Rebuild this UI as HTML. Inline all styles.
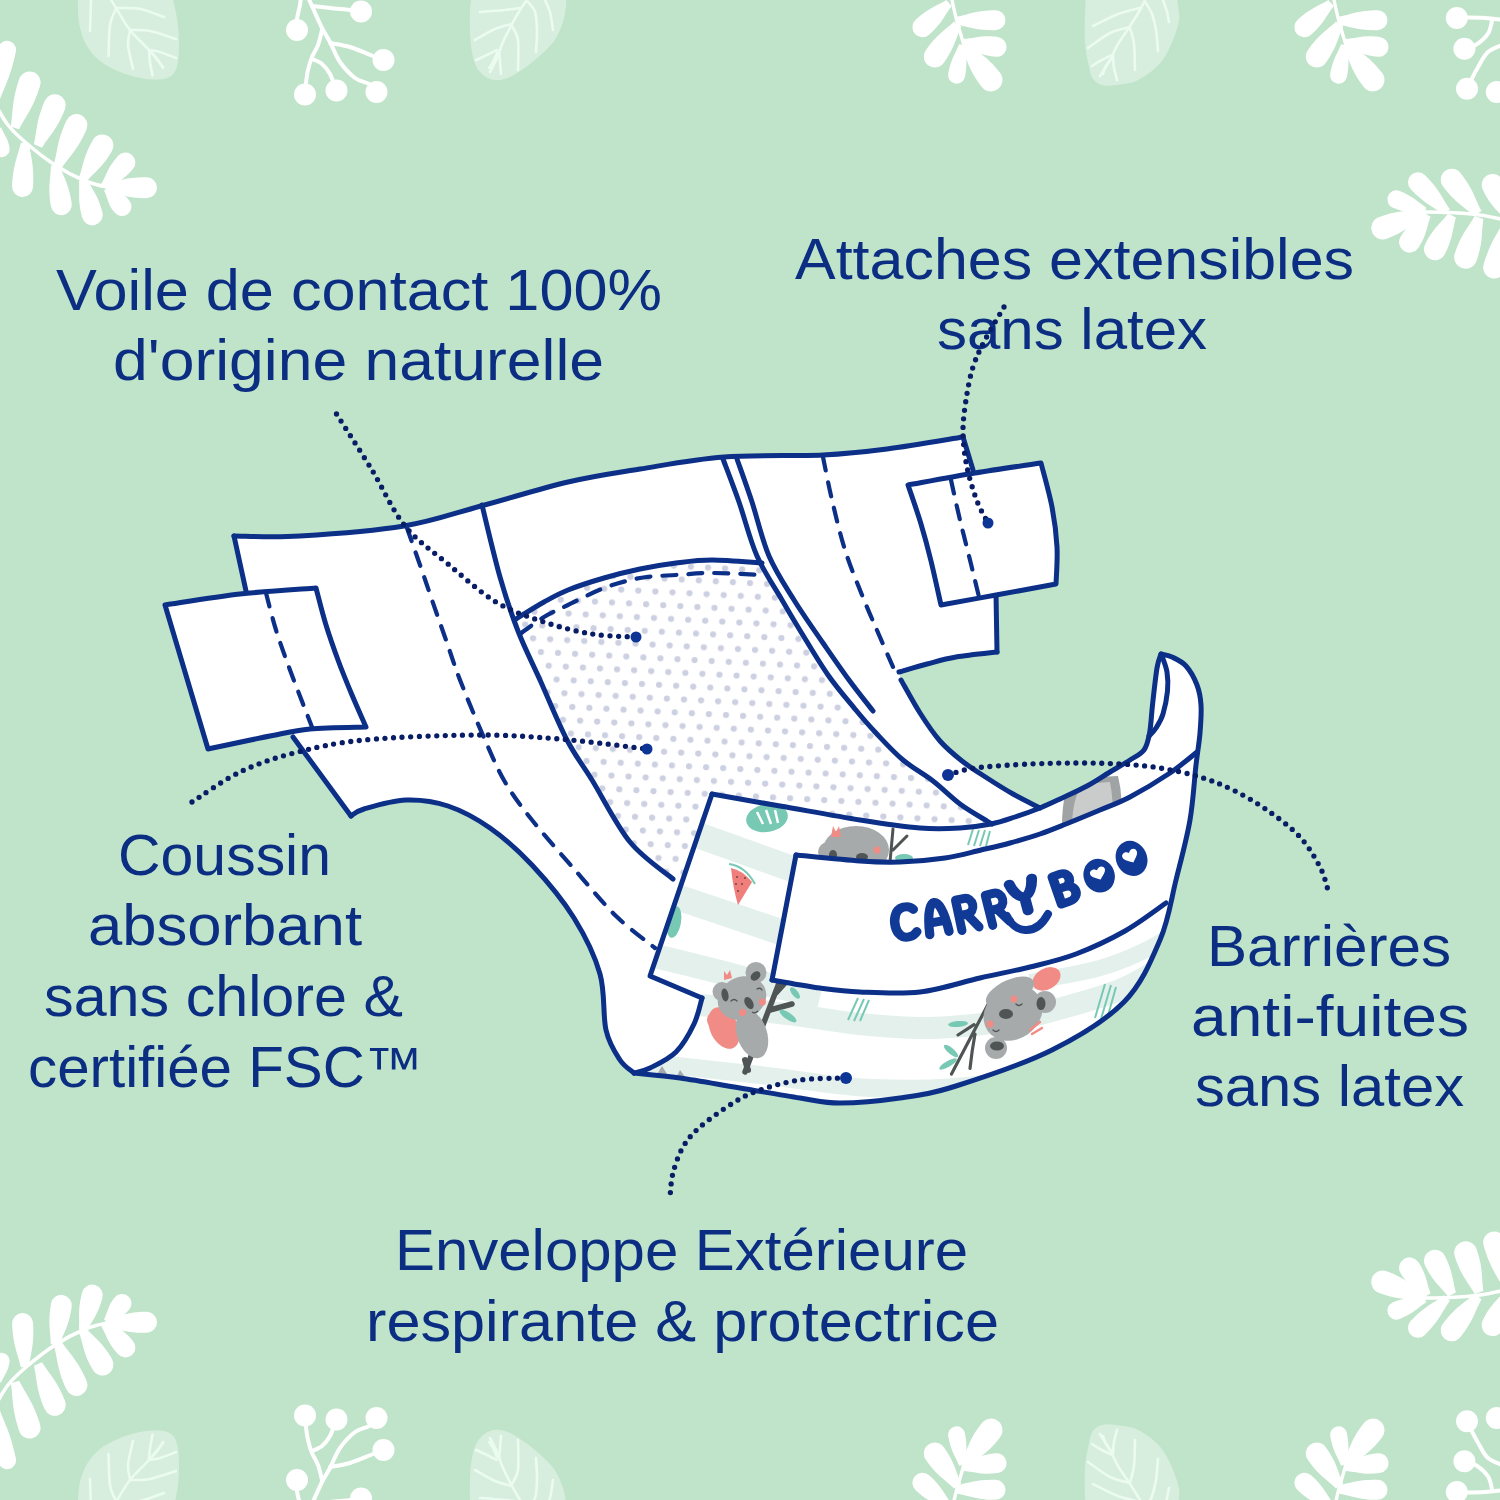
<!DOCTYPE html>
<html><head><meta charset="utf-8"><style>
html,body{margin:0;padding:0;background:#bfe4c9;}
svg{display:block}
text{font-family:"Liberation Sans",sans-serif;}
</style></head><body>
<svg width="1500" height="1500" viewBox="0 0 1500 1500">
<rect width="1500" height="1500" fill="#bfe4c9"/>
<g id="deco">
<path d="M78.0,-20.0 C78.0,-17.7 78.0,-11.0 78.0,-6.0 C78.0,-1.0 77.7,4.3 78.0,10.0 C78.3,15.7 78.5,22.0 80.0,28.0 C81.5,34.0 83.7,40.5 87.0,46.0 C90.3,51.5 94.5,56.7 100.0,61.0 C105.5,65.3 113.3,69.2 120.0,72.0 C126.7,74.8 134.2,76.8 140.0,78.0 C145.8,79.2 150.7,79.4 155.0,79.5 C159.3,79.6 162.8,79.6 166.0,78.5 C169.2,77.4 172.0,75.8 174.0,73.0 C176.0,70.2 177.2,66.7 178.0,62.0 C178.8,57.3 179.0,51.2 179.0,45.0 C179.0,38.8 178.7,31.2 178.0,25.0 C177.3,18.8 176.0,13.2 175.0,8.0 C174.0,2.8 172.5,-1.3 172.0,-6.0 C171.5,-10.7 172.0,-17.7 172.0,-20.0 L172.0,-20 L78.0,-20 Z" fill="#d7eedf"/>
<path d="M110.0,-2.0 C111.0,-0.3 112.7,2.7 116.0,8.0 C119.3,13.3 124.5,23.0 130.0,30.0 C135.5,37.0 143.5,43.8 149.0,50.0 C154.5,56.2 160.7,64.2 163.0,67.0" fill="none" stroke="#ebfbf0" stroke-width="2.6" stroke-linecap="round"/>
<path d="M116.0,8.0 C120.0,8.2 132.0,7.5 140.0,9.0 C148.0,10.5 160.0,15.7 164.0,17.0" fill="none" stroke="#ebfbf0" stroke-width="2.6" stroke-linecap="round"/>
<path d="M130.0,30.0 C133.3,30.2 142.3,29.5 150.0,31.0 C157.7,32.5 171.7,37.7 176.0,39.0" fill="none" stroke="#ebfbf0" stroke-width="2.6" stroke-linecap="round"/>
<path d="M149.0,50.0 C150.8,50.3 155.5,50.7 160.0,52.0 C164.5,53.3 173.3,57.0 176.0,58.0" fill="none" stroke="#ebfbf0" stroke-width="2.6" stroke-linecap="round"/>
<path d="M116.0,9.0 C115.0,11.7 111.2,17.2 110.0,25.0 C108.8,32.8 108.8,50.8 108.5,56.0" fill="none" stroke="#ebfbf0" stroke-width="2.6" stroke-linecap="round"/>
<path d="M130.0,31.0 C129.7,33.3 127.5,38.7 128.0,45.0 C128.5,51.3 132.2,65.0 133.0,69.0" fill="none" stroke="#ebfbf0" stroke-width="2.6" stroke-linecap="round"/>
<path d="M149.0,51.0 C149.2,52.8 149.4,57.9 150.0,62.0 C150.6,66.1 152.1,73.2 152.5,75.5" fill="none" stroke="#ebfbf0" stroke-width="2.6" stroke-linecap="round"/>
<path d="M91.0,0.0 L90.0,31.0" fill="none" stroke="#ebfbf0" stroke-width="2.6" stroke-linecap="round"/>
<path d="M152.0,53.0 C153.0,54.2 156.2,57.5 158.0,60.0 C159.8,62.5 162.2,66.7 163.0,68.0" fill="none" stroke="#ebfbf0" stroke-width="2.6" stroke-linecap="round"/>
<path d="M472.0,-20.0 C472.0,-17.7 472.3,-11.0 472.0,-6.0 C471.7,-1.0 470.3,3.7 470.0,10.0 C469.7,16.3 469.7,25.0 470.0,32.0 C470.3,39.0 471.0,46.3 472.0,52.0 C473.0,57.7 474.3,62.3 476.0,66.0 C477.7,69.7 479.7,71.8 482.0,74.0 C484.3,76.2 487.0,78.0 490.0,79.0 C493.0,80.0 496.3,80.5 500.0,80.0 C503.7,79.5 507.0,78.7 512.0,76.0 C517.0,73.3 524.3,68.3 530.0,64.0 C535.7,59.7 541.7,54.3 546.0,50.0 C550.3,45.7 553.2,42.7 556.0,38.0 C558.8,33.3 561.3,27.3 563.0,22.0 C564.7,16.7 565.5,10.7 566.0,6.0 C566.5,1.3 566.0,-1.7 566.0,-6.0 C566.0,-10.3 566.0,-17.7 566.0,-20.0 L566.0,-20 L472.0,-20 Z" fill="#d7eedf"/>
<path d="M528.0,-2.0 C526.7,0.0 522.7,5.7 520.0,10.0 C517.3,14.3 514.8,18.7 512.0,24.0 C509.2,29.3 505.5,36.3 503.0,42.0 C500.5,47.7 499.2,53.0 497.0,58.0 C494.8,63.0 491.2,69.7 490.0,72.0" fill="none" stroke="#ebfbf0" stroke-width="2.6" stroke-linecap="round"/>
<path d="M520.0,8.0 C517.5,8.3 511.7,9.3 505.0,10.0 C498.3,10.7 484.2,11.7 480.0,12.0" fill="none" stroke="#ebfbf0" stroke-width="2.6" stroke-linecap="round"/>
<path d="M512.0,24.0 C509.2,24.8 501.2,26.3 495.0,29.0 C488.8,31.7 478.3,38.2 475.0,40.0" fill="none" stroke="#ebfbf0" stroke-width="2.6" stroke-linecap="round"/>
<path d="M497.0,50.0 C495.0,51.0 488.5,54.3 485.0,56.0 C481.5,57.7 477.5,59.3 476.0,60.0" fill="none" stroke="#ebfbf0" stroke-width="2.6" stroke-linecap="round"/>
<path d="M528.0,2.0 C529.2,3.7 533.5,7.3 535.0,12.0 C536.5,16.7 536.8,23.3 537.0,30.0 C537.2,36.7 536.2,48.3 536.0,52.0" fill="none" stroke="#ebfbf0" stroke-width="2.6" stroke-linecap="round"/>
<path d="M512.0,26.0 C513.0,28.3 517.0,32.7 518.0,40.0 C519.0,47.3 518.0,65.0 518.0,70.0" fill="none" stroke="#ebfbf0" stroke-width="2.6" stroke-linecap="round"/>
<path d="M499.0,52.0 C499.2,53.7 499.7,58.3 500.0,62.0 C500.3,65.7 500.8,72.0 501.0,74.0" fill="none" stroke="#ebfbf0" stroke-width="2.6" stroke-linecap="round"/>
<path d="M545.0,0.0 C545.8,2.0 548.7,7.0 550.0,12.0 C551.3,17.0 552.5,27.0 553.0,30.0" fill="none" stroke="#ebfbf0" stroke-width="2.6" stroke-linecap="round"/>
<path d="M497.0,53.0 C496.3,54.5 494.3,59.5 493.0,62.0 C491.7,64.5 489.7,67.0 489.0,68.0" fill="none" stroke="#ebfbf0" stroke-width="2.6" stroke-linecap="round"/>
<path d="M1086.0,-20.0 C1086.0,-17.7 1086.2,-11.8 1086.0,-6.0 C1085.8,-0.2 1085.2,6.8 1085.0,15.0 C1084.8,23.2 1084.5,35.2 1085.0,43.0 C1085.5,50.8 1086.7,56.0 1088.0,62.0 C1089.3,68.0 1090.3,75.1 1093.0,79.0 C1095.7,82.9 1099.5,84.6 1104.0,85.5 C1108.5,86.4 1114.7,85.2 1120.0,84.5 C1125.3,83.8 1130.7,83.2 1136.0,81.0 C1141.3,78.8 1147.3,74.8 1152.0,71.0 C1156.7,67.2 1160.5,63.2 1164.0,58.0 C1167.5,52.8 1170.5,46.2 1173.0,40.0 C1175.5,33.8 1178.2,26.8 1179.0,21.0 C1179.8,15.2 1178.5,9.5 1178.0,5.0 C1177.5,0.5 1176.3,-1.8 1176.0,-6.0 C1175.7,-10.2 1176.0,-17.7 1176.0,-20.0 L1176.0,-20 L1086.0,-20 Z" fill="#d7eedf"/>
<path d="M1146.0,-2.0 C1145.0,0.0 1142.7,5.3 1140.0,10.0 C1137.3,14.7 1133.7,20.3 1130.0,26.0 C1126.3,31.7 1121.3,38.3 1118.0,44.0 C1114.7,49.7 1113.0,54.7 1110.0,60.0 C1107.0,65.3 1101.7,73.3 1100.0,76.0" fill="none" stroke="#ebfbf0" stroke-width="2.6" stroke-linecap="round"/>
<path d="M1140.0,8.0 C1136.3,9.0 1125.8,11.0 1118.0,14.0 C1110.2,17.0 1097.2,24.0 1093.0,26.0" fill="none" stroke="#ebfbf0" stroke-width="2.6" stroke-linecap="round"/>
<path d="M1130.0,27.0 C1126.7,28.0 1117.0,29.5 1110.0,33.0 C1103.0,36.5 1091.7,45.5 1088.0,48.0" fill="none" stroke="#ebfbf0" stroke-width="2.6" stroke-linecap="round"/>
<path d="M1112.0,55.0 C1110.0,56.0 1103.3,59.2 1100.0,61.0 C1096.7,62.8 1093.3,65.2 1092.0,66.0" fill="none" stroke="#ebfbf0" stroke-width="2.6" stroke-linecap="round"/>
<path d="M1146.0,3.0 C1147.0,4.8 1150.3,9.5 1152.0,14.0 C1153.7,18.5 1155.0,23.8 1156.0,30.0 C1157.0,36.2 1157.7,47.5 1158.0,51.0" fill="none" stroke="#ebfbf0" stroke-width="2.6" stroke-linecap="round"/>
<path d="M1130.0,28.0 C1130.7,30.7 1133.2,37.0 1134.0,44.0 C1134.8,51.0 1134.8,65.7 1135.0,70.0" fill="none" stroke="#ebfbf0" stroke-width="2.6" stroke-linecap="round"/>
<path d="M1113.0,56.0 C1113.2,58.0 1113.3,64.0 1114.0,68.0 C1114.7,72.0 1116.5,78.0 1117.0,80.0" fill="none" stroke="#ebfbf0" stroke-width="2.6" stroke-linecap="round"/>
<path d="M1163.0,0.0 C1163.7,2.0 1166.0,8.3 1167.0,12.0 C1168.0,15.7 1168.7,20.3 1169.0,22.0" fill="none" stroke="#ebfbf0" stroke-width="2.6" stroke-linecap="round"/>
<path d="M1112.0,58.0 C1111.0,59.3 1107.5,63.3 1106.0,66.0 C1104.5,68.7 1103.5,72.7 1103.0,74.0" fill="none" stroke="#ebfbf0" stroke-width="2.6" stroke-linecap="round"/>
<path d="M-5.0,104.0 C-2.8,107.5 3.0,118.7 8.0,125.0 C13.0,131.3 17.2,135.3 25.0,142.0 C32.8,148.7 45.3,158.7 55.0,165.0 C64.7,171.3 74.3,176.3 83.0,180.0 C91.7,183.7 100.0,185.7 107.0,187.0 C114.0,188.3 122.0,187.8 125.0,188.0" fill="none" stroke="#fff" stroke-width="3.6" stroke-linecap="round"/>
<path transform="translate(-4.0,100.0) rotate(-77.57)" d="M0,-3.60 C15.10,-5.40 24.17,-9.18 51.42,-9.00 A9.00,9.00 0 0 1 51.42,9.00 C24.17,9.18 15.10,5.40 0,3.60 Z" fill="#ffffff"/>
<path transform="translate(15.0,128.0) rotate(-72.18)" d="M0,-4.40 C14.71,-6.60 23.53,-11.22 47.82,-11.00 A11.00,11.00 0 0 1 47.82,11.00 C23.53,11.22 14.71,6.60 0,4.40 Z" fill="#ffffff"/>
<path transform="translate(38.0,146.0) rotate(-67.62)" d="M0,-4.40 C13.79,-6.60 22.06,-11.22 44.15,-11.00 A11.00,11.00 0 0 1 44.15,11.00 C22.06,11.22 13.79,6.60 0,4.40 Z" fill="#ffffff"/>
<path transform="translate(58.0,166.0) rotate(-65.73)" d="M0,-4.40 C13.99,-6.60 22.38,-11.22 44.95,-11.00 A11.00,11.00 0 0 1 44.95,11.00 C22.38,11.22 13.99,6.60 0,4.40 Z" fill="#ffffff"/>
<path transform="translate(83.0,179.0) rotate(-59.83)" d="M0,-4.40 C12.43,-6.60 19.90,-11.22 38.74,-11.00 A11.00,11.00 0 0 1 38.74,11.00 C19.90,11.22 12.43,6.60 0,4.40 Z" fill="#ffffff"/>
<path transform="translate(104.0,187.0) rotate(-48.81)" d="M0,-4.00 C10.63,-6.00 17.01,-10.20 32.52,-10.00 A10.00,10.00 0 0 1 32.52,10.00 C17.01,10.20 10.63,6.00 0,4.00 Z" fill="#ffffff"/>
<path transform="translate(107.0,187.0) rotate(1.15)" d="M0,-4.20 C12.50,-6.30 20.00,-10.71 39.51,-10.50 A10.50,10.50 0 0 1 39.51,10.50 C20.00,10.71 12.50,6.30 0,4.20 Z" fill="#ffffff"/>
<path transform="translate(-2.0,128.0) rotate(80.22)" d="M0,-3.20 C7.36,-4.80 11.77,-8.16 21.43,-8.00 A8.00,8.00 0 0 1 21.43,8.00 C11.77,8.16 7.36,4.80 0,3.20 Z" fill="#ffffff"/>
<path transform="translate(25.0,143.0) rotate(93.18)" d="M0,-4.20 C13.52,-6.30 21.63,-10.71 43.58,-10.50 A10.50,10.50 0 0 1 43.58,10.50 C21.63,10.71 13.52,6.30 0,4.20 Z" fill="#ffffff"/>
<path transform="translate(55.0,165.0) rotate(80.91)" d="M0,-4.20 C12.66,-6.30 20.25,-10.71 40.14,-10.50 A10.50,10.50 0 0 1 40.14,10.50 C20.25,10.71 12.66,6.30 0,4.20 Z" fill="#ffffff"/>
<path transform="translate(83.0,180.0) rotate(75.07)" d="M0,-4.20 C11.64,-6.30 18.63,-10.71 36.07,-10.50 A10.50,10.50 0 0 1 36.07,10.50 C18.63,10.71 11.64,6.30 0,4.20 Z" fill="#ffffff"/>
<path transform="translate(107.0,188.0) rotate(51.07)" d="M0,-3.80 C8.36,-5.70 13.37,-9.69 23.92,-9.50 A9.50,9.50 0 0 1 23.92,9.50 C13.37,9.69 8.36,5.70 0,3.80 Z" fill="#ffffff"/>
<path d="M1420.0,212.0 C1425.0,212.1 1440.0,212.0 1450.0,212.5 C1460.0,213.0 1470.8,213.8 1480.0,215.0 C1489.2,216.2 1500.8,219.2 1505.0,220.0" fill="none" stroke="#fff" stroke-width="3.6" stroke-linecap="round"/>
<path transform="translate(1425.0,211.0) rotate(-157.93)" d="M0,-3.60 C9.98,-5.40 15.97,-9.18 30.92,-9.00 A9.00,9.00 0 0 1 30.92,9.00 C15.97,9.18 9.98,5.40 0,3.60 Z" fill="#ffffff"/>
<path transform="translate(1447.0,212.0) rotate(-134.22)" d="M0,-4.00 C12.91,-6.00 20.65,-10.20 41.62,-10.00 A10.00,10.00 0 0 1 41.62,10.00 C20.65,10.20 12.91,6.00 0,4.00 Z" fill="#ffffff"/>
<path transform="translate(1478.0,213.5) rotate(-127.83)" d="M0,-4.40 C13.45,-6.60 21.52,-11.22 42.81,-11.00 A11.00,11.00 0 0 1 42.81,11.00 C21.52,11.22 13.45,6.60 0,4.40 Z" fill="#ffffff"/>
<path transform="translate(1508.0,217.0) rotate(-115.46)" d="M0,-4.40 C11.63,-6.60 18.61,-11.22 35.52,-11.00 A11.00,11.00 0 0 1 35.52,11.00 C18.61,11.22 11.63,6.60 0,4.40 Z" fill="#ffffff"/>
<path transform="translate(1421.0,213.5) rotate(159.32)" d="M0,-4.60 C13.09,-6.90 20.95,-11.73 40.88,-11.50 A11.50,11.50 0 0 1 40.88,11.50 C20.95,11.73 13.09,6.90 0,4.60 Z" fill="#ffffff"/>
<path transform="translate(1427.0,214.5) rotate(122.22)" d="M0,-4.20 C10.79,-6.30 17.26,-10.71 32.64,-10.50 A10.50,10.50 0 0 1 32.64,10.50 C17.26,10.71 10.79,6.30 0,4.20 Z" fill="#ffffff"/>
<path transform="translate(1452.0,215.5) rotate(116.83)" d="M0,-4.40 C12.19,-6.60 19.50,-11.22 37.75,-11.00 A11.00,11.00 0 0 1 37.75,11.00 C19.50,11.22 12.19,6.60 0,4.40 Z" fill="#ffffff"/>
<path transform="translate(1479.0,217.5) rotate(108.60)" d="M0,-4.60 C13.32,-6.90 21.31,-11.73 41.78,-11.50 A11.50,11.50 0 0 1 41.78,11.50 C21.31,11.73 13.32,6.90 0,4.60 Z" fill="#ffffff"/>
<path transform="translate(1508.0,222.0) rotate(106.89)" d="M0,-4.40 C14.63,-6.60 23.41,-11.22 47.52,-11.00 A11.00,11.00 0 0 1 47.52,11.00 C23.41,11.22 14.63,6.60 0,4.40 Z" fill="#ffffff"/>
<g transform="translate(0,0)">
<path d="M951.0,-5.0 C951.2,-4.2 951.2,-3.8 952.0,0.0 C952.8,3.8 954.3,10.9 956.0,17.6 C957.7,24.3 960.9,34.8 962.4,40.0 C963.9,45.2 964.6,47.5 965.0,49.0" fill="none" stroke="#fff" stroke-width="3.4" stroke-linecap="round"/>
<path transform="translate(949.0,3.0) rotate(137.64)" d="M0,-4.00 C11.50,-6.00 18.40,-10.20 36.01,-10.00 A10.00,10.00 0 0 1 36.01,10.00 C18.40,10.20 11.50,6.00 0,4.00 Z" fill="#ffffff"/>
<path transform="translate(956.0,20.8) rotate(-0.93)" d="M0,-4.00 C12.38,-6.00 19.80,-10.20 39.51,-10.00 A10.00,10.00 0 0 1 39.51,10.00 C19.80,10.20 12.38,6.00 0,4.00 Z" fill="#ffffff"/>
<path transform="translate(957.6,24.0) rotate(125.04)" d="M0,-4.40 C12.67,-6.60 20.27,-11.22 39.69,-11.00 A11.00,11.00 0 0 1 39.69,11.00 C20.27,11.22 12.67,6.60 0,4.40 Z" fill="#ffffff"/>
<path transform="translate(963.0,43.0) rotate(6.56)" d="M0,-4.00 C10.95,-6.00 17.51,-10.20 33.79,-10.00 A10.00,10.00 0 0 1 33.79,10.00 C17.51,10.20 10.95,6.00 0,4.00 Z" fill="#ffffff"/>
<path transform="translate(962.4,45.0) rotate(100.88)" d="M0,-3.40 C9.80,-5.10 15.68,-8.67 30.70,-8.50 A8.50,8.50 0 0 1 30.70,8.50 C15.68,8.67 9.80,5.10 0,3.40 Z" fill="#ffffff"/>
<path transform="translate(965.6,47.0) rotate(52.35)" d="M0,-4.60 C13.26,-6.90 21.22,-11.73 41.54,-11.50 A11.50,11.50 0 0 1 41.54,11.50 C21.22,11.73 13.26,6.90 0,4.60 Z" fill="#ffffff"/>
</g>
<g transform="translate(382,0)">
<path d="M951.0,-5.0 C951.2,-4.2 951.2,-3.8 952.0,0.0 C952.8,3.8 954.3,10.9 956.0,17.6 C957.7,24.3 960.9,34.8 962.4,40.0 C963.9,45.2 964.6,47.5 965.0,49.0" fill="none" stroke="#fff" stroke-width="3.4" stroke-linecap="round"/>
<path transform="translate(949.0,3.0) rotate(137.64)" d="M0,-4.00 C11.50,-6.00 18.40,-10.20 36.01,-10.00 A10.00,10.00 0 0 1 36.01,10.00 C18.40,10.20 11.50,6.00 0,4.00 Z" fill="#ffffff"/>
<path transform="translate(956.0,20.8) rotate(-0.93)" d="M0,-4.00 C12.38,-6.00 19.80,-10.20 39.51,-10.00 A10.00,10.00 0 0 1 39.51,10.00 C19.80,10.20 12.38,6.00 0,4.00 Z" fill="#ffffff"/>
<path transform="translate(957.6,24.0) rotate(125.04)" d="M0,-4.40 C12.67,-6.60 20.27,-11.22 39.69,-11.00 A11.00,11.00 0 0 1 39.69,11.00 C20.27,11.22 12.67,6.60 0,4.40 Z" fill="#ffffff"/>
<path transform="translate(963.0,43.0) rotate(6.56)" d="M0,-4.00 C10.95,-6.00 17.51,-10.20 33.79,-10.00 A10.00,10.00 0 0 1 33.79,10.00 C17.51,10.20 10.95,6.00 0,4.00 Z" fill="#ffffff"/>
<path transform="translate(962.4,45.0) rotate(100.88)" d="M0,-3.40 C9.80,-5.10 15.68,-8.67 30.70,-8.50 A8.50,8.50 0 0 1 30.70,8.50 C15.68,8.67 9.80,5.10 0,3.40 Z" fill="#ffffff"/>
<path transform="translate(965.6,47.0) rotate(52.35)" d="M0,-4.60 C13.26,-6.90 21.22,-11.73 41.54,-11.50 A11.50,11.50 0 0 1 41.54,11.50 C21.22,11.73 13.26,6.90 0,4.60 Z" fill="#ffffff"/>
</g>
<path d="M307.0,-5.0 C307.8,-3.2 309.5,0.5 312.0,6.0 C314.5,11.5 319.0,22.0 322.0,28.0 C325.0,34.0 327.0,36.3 330.0,42.0 C333.0,47.7 335.8,56.0 340.0,62.0 C344.2,68.0 350.2,74.3 355.0,78.0 C359.8,81.7 365.4,81.7 369.0,84.0 C372.6,86.3 375.2,90.7 376.5,92.0" fill="none" stroke="#fff" stroke-width="4.0" stroke-linecap="round"/>
<path d="M312.0,6.0 C315.0,6.3 323.7,7.3 330.0,8.0 C336.3,8.7 344.8,9.4 350.0,10.0 C355.2,10.6 359.2,11.2 361.0,11.5" fill="none" stroke="#fff" stroke-width="4.0" stroke-linecap="round"/>
<path d="M301.0,-5.0 C300.8,-3.3 300.7,1.0 300.0,5.0 C299.3,9.0 297.5,14.8 297.0,19.0 C296.5,23.2 297.0,28.2 297.0,30.0" fill="none" stroke="#fff" stroke-width="4.0" stroke-linecap="round"/>
<path d="M330.0,43.0 C333.3,43.7 342.8,44.8 350.0,47.0 C357.2,49.2 367.4,53.8 373.0,56.0 C378.6,58.2 381.8,59.3 383.5,60.0" fill="none" stroke="#fff" stroke-width="4.0" stroke-linecap="round"/>
<path d="M322.0,30.0 C321.3,32.5 319.7,40.5 318.0,45.0 C316.3,49.5 313.7,52.8 312.0,57.0 C310.3,61.2 309.0,65.7 308.0,70.0 C307.0,74.3 306.5,78.9 306.0,83.0 C305.5,87.1 305.2,92.6 305.0,94.5" fill="none" stroke="#fff" stroke-width="4.0" stroke-linecap="round"/>
<path d="M312.0,59.0 C313.7,59.8 319.0,61.5 322.0,64.0 C325.0,66.5 327.6,69.6 330.0,74.0 C332.4,78.4 335.4,87.8 336.5,90.5" fill="none" stroke="#fff" stroke-width="4.0" stroke-linecap="round"/>
<circle cx="361.0" cy="11.5" r="11.0" fill="#fff"/>
<circle cx="297.0" cy="30.0" r="11.0" fill="#fff"/>
<circle cx="383.5" cy="60.0" r="11.0" fill="#fff"/>
<circle cx="305.0" cy="94.5" r="11.0" fill="#fff"/>
<circle cx="336.5" cy="90.5" r="11.0" fill="#fff"/>
<circle cx="376.5" cy="92.0" r="11.0" fill="#fff"/>
<path d="M1456.8,18.0 C1458.7,17.9 1463.3,17.6 1468.0,17.6 C1472.7,17.6 1478.8,17.6 1485.0,18.0 C1491.2,18.4 1501.7,19.7 1505.0,20.0" fill="none" stroke="#fff" stroke-width="4.0" stroke-linecap="round"/>
<path d="M1492.0,21.0 C1491.3,23.1 1490.7,29.6 1488.0,33.6 C1485.3,37.6 1479.9,42.3 1476.0,44.8 C1472.1,47.3 1466.3,48.1 1464.4,48.8" fill="none" stroke="#fff" stroke-width="4.0" stroke-linecap="round"/>
<path d="M1505.0,44.0 C1502.2,45.3 1492.6,48.0 1488.0,52.0 C1483.4,56.0 1480.3,63.6 1477.6,68.0 C1474.9,72.4 1473.8,74.9 1472.0,78.4 C1470.2,81.9 1467.8,87.1 1467.0,88.8" fill="none" stroke="#fff" stroke-width="4.0" stroke-linecap="round"/>
<circle cx="1456.8" cy="18.0" r="11.0" fill="#fff"/>
<circle cx="1464.4" cy="48.8" r="11.0" fill="#fff"/>
<circle cx="1467.0" cy="88.8" r="11.0" fill="#fff"/>
<circle cx="1496.8" cy="92.0" r="11.0" fill="#fff"/>
</g>
<use href="#deco" transform="translate(0,1510) scale(1,-1)"/>
<g fill="#0b2e83" font-size="57">
<text x="56.0" y="310.0" textLength="606.0" lengthAdjust="spacingAndGlyphs">Voile de contact 100%</text>
<text x="113.0" y="380.0" textLength="491.0" lengthAdjust="spacingAndGlyphs">d'origine naturelle</text>
<text x="795.0" y="279.0" textLength="559.0" lengthAdjust="spacingAndGlyphs">Attaches extensibles</text>
<text x="937.0" y="349.0" textLength="270.0" lengthAdjust="spacingAndGlyphs">sans latex</text>
<text x="118.0" y="875.0" textLength="213.0" lengthAdjust="spacingAndGlyphs">Coussin</text>
<text x="88.0" y="944.5" textLength="274.0" lengthAdjust="spacingAndGlyphs">absorbant</text>
<text x="44.0" y="1015.5" textLength="359.0" lengthAdjust="spacingAndGlyphs">sans chlore &amp;</text>
<text x="28.0" y="1086.5" textLength="395.0" lengthAdjust="spacingAndGlyphs">certifiée FSC™</text>
<text x="1207.0" y="966.0" textLength="244.0" lengthAdjust="spacingAndGlyphs">Barrières</text>
<text x="1191.0" y="1036.0" textLength="278.0" lengthAdjust="spacingAndGlyphs">anti-fuites</text>
<text x="1195.0" y="1106.0" textLength="269.0" lengthAdjust="spacingAndGlyphs">sans latex</text>
<text x="395.0" y="1270.0" textLength="573.0" lengthAdjust="spacingAndGlyphs">Enveloppe Extérieure</text>
<text x="366.0" y="1341.0" textLength="633.0" lengthAdjust="spacingAndGlyphs">respirante &amp; protectrice</text>
</g>
<defs>
<pattern id="dots" patternUnits="userSpaceOnUse" x="6" y="7" width="17.1" height="26.6" patternTransform="rotate(3)"><circle cx="4" cy="4" r="3.1" fill="#cdd0e1"/><circle cx="12.55" cy="17.3" r="3.1" fill="#cdd0e1"/></pattern>
<clipPath id="frontclip"><path d="M712,794 C723.3,796.0 755.3,801.7 780.0,806.0 C804.7,810.3 836.7,816.3 860.0,820.0 C883.3,823.7 903.3,826.7 920.0,828.0 C936.7,829.3 948.2,828.7 960.0,828.0 C971.8,827.3 981.8,825.8 991.0,824.0 C1000.2,822.2 1006.8,819.7 1015.0,817.0 C1023.2,814.3 1032.5,811.0 1040.0,808.0 C1047.5,805.0 1052.2,802.7 1060.0,799.0 C1067.8,795.3 1078.7,790.5 1087.0,786.0 C1095.3,781.5 1102.8,776.3 1110.0,772.0 C1117.2,767.7 1124.3,763.7 1130.0,760.0 C1135.7,756.3 1140.7,754.5 1144.0,750.0 C1147.3,745.5 1148.2,740.5 1149.6,733.0 C1151.0,725.5 1151.3,715.8 1152.5,705.0 C1153.7,694.2 1155.6,676.5 1157.0,668.0 C1158.4,659.5 1160.3,656.3 1161.0,654.0 C1162.8,654.5 1167.8,655.0 1172.0,657.0 C1176.2,659.0 1181.8,661.3 1186.0,666.0 C1190.2,670.7 1194.5,678.5 1197.0,685.0 C1199.5,691.5 1200.5,697.0 1201.0,705.0 C1201.5,713.0 1200.8,723.0 1200.0,733.0 C1199.2,743.0 1197.7,750.5 1196.0,765.0 C1194.3,779.5 1193.3,800.8 1190.0,820.0 C1186.7,839.2 1181.0,860.0 1176.0,880.0 C1171.0,900.0 1168.7,919.7 1160.0,940.0 C1151.3,960.3 1142.0,983.7 1124.0,1002.0 C1106.0,1020.3 1080.0,1036.0 1052.0,1050.0 C1024.0,1064.0 981.3,1078.0 956.0,1086.0 C930.7,1094.0 919.3,1095.2 900.0,1098.0 C880.7,1100.8 856.7,1103.0 840.0,1103.0 C823.3,1103.0 816.7,1100.5 800.0,1098.0 C783.3,1095.5 760.0,1091.3 740.0,1088.0 C720.0,1084.7 697.7,1080.5 680.0,1078.0 C662.3,1075.5 641.7,1073.8 634.0,1073.0 C636.7,1072.2 643.0,1071.5 650.0,1068.0 C657.0,1064.5 668.7,1059.3 676.0,1052.0 C683.3,1044.7 689.7,1033.0 694.0,1024.0 C698.3,1015.0 700.7,1002.3 702.0,998.0 L650,976 Z"/></clipPath>
</defs>
<g id="diaper">
<path d="M234,536 C245.0,536.0 271.7,537.7 300.0,536.0 C328.3,534.3 373.8,531.0 404.0,526.0 C434.2,521.0 453.7,513.3 481.0,506.0 C508.3,498.7 541.5,488.2 568.0,482.0 C594.5,475.8 614.0,473.2 640.0,469.0 C666.0,464.8 693.5,459.3 724.0,457.0 C754.5,454.7 795.8,456.3 823.0,455.0 C850.2,453.7 863.7,452.0 887.0,449.0 C910.3,446.0 950.3,439.0 963.0,437.0 L973,470 L996,594 L997,652 C990.2,652.8 967.7,655.0 956.0,657.0 C944.3,659.0 936.5,661.5 927.0,664.0 C917.5,666.5 903.7,670.7 899.0,672.0 L901,680 C904.2,685.5 913.5,702.8 920.0,713.0 C926.5,723.2 933.0,733.0 940.0,741.0 C947.0,749.0 954.2,754.8 962.0,761.0 C969.8,767.2 978.5,772.5 987.0,778.0 C995.5,783.5 1004.2,789.0 1013.0,794.0 C1021.8,799.0 1035.5,805.7 1040.0,808.0 C1043.3,806.5 1052.2,802.7 1060.0,799.0 C1067.8,795.3 1078.7,790.5 1087.0,786.0 C1095.3,781.5 1102.8,776.3 1110.0,772.0 C1117.2,767.7 1124.3,763.7 1130.0,760.0 C1135.7,756.3 1140.7,754.5 1144.0,750.0 C1147.3,745.5 1148.2,740.5 1149.6,733.0 C1151.0,725.5 1151.3,715.8 1152.5,705.0 C1153.7,694.2 1155.6,676.5 1157.0,668.0 C1158.4,659.5 1160.3,656.3 1161.0,654.0 C1162.8,654.5 1167.8,655.0 1172.0,657.0 C1176.2,659.0 1181.8,661.3 1186.0,666.0 C1190.2,670.7 1194.5,678.5 1197.0,685.0 C1199.5,691.5 1200.5,697.0 1201.0,705.0 C1201.5,713.0 1200.8,723.0 1200.0,733.0 C1199.2,743.0 1197.7,750.5 1196.0,765.0 C1194.3,779.5 1193.3,800.8 1190.0,820.0 C1186.7,839.2 1181.0,860.0 1176.0,880.0 C1171.0,900.0 1168.7,919.7 1160.0,940.0 C1151.3,960.3 1142.0,983.7 1124.0,1002.0 C1106.0,1020.3 1080.0,1036.0 1052.0,1050.0 C1024.0,1064.0 981.3,1078.0 956.0,1086.0 C930.7,1094.0 919.3,1095.2 900.0,1098.0 C880.7,1100.8 856.7,1103.0 840.0,1103.0 C823.3,1103.0 816.7,1100.5 800.0,1098.0 C783.3,1095.5 760.0,1091.3 740.0,1088.0 C720.0,1084.7 697.7,1080.5 680.0,1078.0 C662.3,1075.5 641.7,1073.8 634.0,1073.0 C631.7,1070.8 624.7,1067.2 620.0,1060.0 C615.3,1052.8 609.3,1044.3 606.0,1030.0 C602.7,1015.7 605.3,992.7 600.0,974.0 C594.7,955.3 585.3,936.2 574.0,918.0 C562.7,899.8 546.0,880.0 532.0,865.0 C518.0,850.0 504.0,837.8 490.0,828.0 C476.0,818.2 462.0,810.7 448.0,806.0 C434.0,801.3 420.0,799.5 406.0,800.0 C392.0,800.5 373.2,806.3 364.0,809.0 C354.8,811.7 353.2,814.8 351.0,816.0 L293,737 L246,591 Z" fill="#fff"/>
<path d="M516,619 C520.7,616.2 535.3,606.8 544.0,602.0 C552.7,597.2 558.0,594.0 568.0,590.0 C578.0,586.0 592.0,581.5 604.0,578.0 C616.0,574.5 628.0,571.5 640.0,569.0 C652.0,566.5 664.0,564.5 676.0,563.0 C688.0,561.5 697.7,560.0 712.0,560.0 C726.3,560.0 753.7,562.5 762.0,563.0 C765.3,569.2 775.5,588.5 782.0,600.0 C788.5,611.5 793.3,619.5 801.0,632.0 C808.7,644.5 819.0,662.2 828.0,675.0 C837.0,687.8 847.0,699.3 855.0,709.0 C863.0,718.7 868.0,724.5 876.0,733.0 C884.0,741.5 893.5,752.0 903.0,760.0 C912.5,768.0 923.5,773.7 933.0,781.0 C942.5,788.3 951.0,797.3 960.0,804.0 C969.0,810.7 981.7,817.7 987.0,821.0 C992.3,824.3 991.2,823.5 992.0,824.0 C986.7,824.7 972.0,827.3 960.0,828.0 C948.0,828.7 936.7,829.3 920.0,828.0 C903.3,826.7 883.3,823.7 860.0,820.0 C836.7,816.3 804.7,810.3 780.0,806.0 C755.3,801.7 723.3,796.0 712.0,794.0 L683,879 L673,879 C665.8,872.8 643.5,858.5 630.0,842.0 C616.5,825.5 602.5,797.0 592.0,780.0 C581.5,763.0 575.7,756.7 567.0,740.0 C558.3,723.3 548.2,698.2 540.0,680.0 C531.8,661.8 521.7,639.2 518.0,631.0 Z" fill="url(#dots)"/>
<path d="M712,794 C723.3,796.0 755.3,801.7 780.0,806.0 C804.7,810.3 836.7,816.3 860.0,820.0 C883.3,823.7 903.3,826.7 920.0,828.0 C936.7,829.3 948.2,828.7 960.0,828.0 C971.8,827.3 981.8,825.8 991.0,824.0 C1000.2,822.2 1006.8,819.7 1015.0,817.0 C1023.2,814.3 1032.5,811.0 1040.0,808.0 C1047.5,805.0 1052.2,802.7 1060.0,799.0 C1067.8,795.3 1078.7,790.5 1087.0,786.0 C1095.3,781.5 1102.8,776.3 1110.0,772.0 C1117.2,767.7 1124.3,763.7 1130.0,760.0 C1135.7,756.3 1140.7,754.5 1144.0,750.0 C1147.3,745.5 1148.2,740.5 1149.6,733.0 C1151.0,725.5 1151.3,715.8 1152.5,705.0 C1153.7,694.2 1155.6,676.5 1157.0,668.0 C1158.4,659.5 1160.3,656.3 1161.0,654.0 C1162.8,654.5 1167.8,655.0 1172.0,657.0 C1176.2,659.0 1181.8,661.3 1186.0,666.0 C1190.2,670.7 1194.5,678.5 1197.0,685.0 C1199.5,691.5 1200.5,697.0 1201.0,705.0 C1201.5,713.0 1200.8,723.0 1200.0,733.0 C1199.2,743.0 1197.7,750.5 1196.0,765.0 C1194.3,779.5 1193.3,800.8 1190.0,820.0 C1186.7,839.2 1181.0,860.0 1176.0,880.0 C1171.0,900.0 1168.7,919.7 1160.0,940.0 C1151.3,960.3 1142.0,983.7 1124.0,1002.0 C1106.0,1020.3 1080.0,1036.0 1052.0,1050.0 C1024.0,1064.0 981.3,1078.0 956.0,1086.0 C930.7,1094.0 919.3,1095.2 900.0,1098.0 C880.7,1100.8 856.7,1103.0 840.0,1103.0 C823.3,1103.0 816.7,1100.5 800.0,1098.0 C783.3,1095.5 760.0,1091.3 740.0,1088.0 C720.0,1084.7 697.7,1080.5 680.0,1078.0 C662.3,1075.5 641.7,1073.8 634.0,1073.0 C636.7,1072.2 643.0,1071.5 650.0,1068.0 C657.0,1064.5 668.7,1059.3 676.0,1052.0 C683.3,1044.7 689.7,1033.0 694.0,1024.0 C698.3,1015.0 700.7,1002.3 702.0,998.0 L650,976 Z" fill="#fff"/>
<g clip-path="url(#frontclip)">
<path d="M630.0,812.0 C641.9,816.1 675.5,827.3 701.6,836.5 C727.7,845.7 767.0,860.1 786.7,867.0 C806.4,873.9 814.5,876.2 820.0,878.0" fill="none" stroke="#e3f0ec" stroke-width="26"/>
<path d="M620.0,878.0 C630.7,881.6 656.2,890.2 684.0,899.5 C711.8,908.8 764.0,926.4 786.7,934.0 C809.4,941.6 814.5,943.2 820.0,945.0" fill="none" stroke="#e3f0ec" stroke-width="26"/>
<path d="M610.0,950.0 C617.5,951.0 627.7,950.1 654.7,956.0 C681.7,961.9 744.5,978.5 772.0,985.3 C799.5,992.1 812.0,995.0 820.0,997.0" fill="none" stroke="#e3f0ec" stroke-width="24"/>
<path d="M700.0,1005.0 C714.7,1006.5 761.3,1010.8 788.0,1014.0 C814.7,1017.2 836.7,1021.7 860.0,1024.0 C883.3,1026.3 904.7,1028.3 928.0,1028.0 C951.3,1027.7 981.3,1024.3 1000.0,1022.0 C1018.7,1019.7 1020.0,1019.3 1040.0,1014.0 C1060.0,1008.7 1099.2,998.2 1120.0,990.0 C1140.8,981.8 1157.5,969.2 1165.0,965.0" fill="none" stroke="#e3f0ec" stroke-width="22"/>
<path d="M640.0,1062.0 C660.0,1064.2 721.3,1070.7 760.0,1075.0 C798.7,1079.3 834.7,1086.5 872.0,1088.0 C909.3,1089.5 952.7,1088.7 984.0,1084.0 C1015.3,1079.3 1035.7,1069.8 1060.0,1060.0 C1084.3,1050.2 1118.3,1030.8 1130.0,1025.0" fill="none" stroke="#e3f0ec" stroke-width="18"/>
<path d="M1030.0,982.0 C1041.7,979.7 1080.0,973.7 1100.0,968.0 C1120.0,962.3 1135.8,955.2 1150.0,948.0 C1164.2,940.8 1179.2,928.8 1185.0,925.0" fill="none" stroke="#e3f0ec" stroke-width="16"/>
<ellipse cx="767" cy="818" rx="21" ry="14" transform="rotate(-10 767 818)" fill="#78c9b3"/>
<path d="M757,812 l6,12 M766,810 l5,14 M775,810 l3,13" stroke="#fff" stroke-width="2.5" fill="none"/>
<ellipse cx="674" cy="922" rx="7" ry="16" transform="rotate(10 674 922)" fill="#78c9b3"/>
<path d="M731,868 Q742,870 752,882 L738,905 Q733,888 731,868 Z" fill="#f07f7c"/>
<path d="M729,864 Q745,866 755,884" stroke="#78c9b3" stroke-width="2" fill="none"/>
<circle cx="737" cy="877" r="0.9" fill="#6b3d3d"/>
<circle cx="742" cy="884" r="0.9" fill="#6b3d3d"/>
<circle cx="738" cy="891" r="0.9" fill="#6b3d3d"/>
<circle cx="745" cy="878" r="0.9" fill="#6b3d3d"/>
<circle cx="736" cy="884" r="0.9" fill="#6b3d3d"/>
<ellipse cx="856" cy="850" rx="33" ry="24" fill="#a7aaab"/>
<circle cx="828" cy="852" r="10" fill="#a7aaab"/><ellipse cx="833" cy="855" rx="4" ry="5" fill="#4f5455"/>
<ellipse cx="862" cy="857" rx="6" ry="4" fill="#4f5455"/>
<circle cx="877" cy="850" r="3.5" fill="#f08b86"/>
<path d="M831,837 l2,-11 l3,6 l3,-6 l2,11 Z" fill="#f08b86"/>
<path d="M890,862 L893,829 M893,850 L907,836" stroke="#4f5455" stroke-width="3" stroke-linecap="round" fill="none"/>
<ellipse cx="904" cy="858" rx="9" ry="4" fill="#78c9b3"/>
<path d="M968,845 l5,-16 M974,846 l5,-16 M980,846 l5,-16 M986,846 l4,-15" stroke="#78c9b3" stroke-width="2" fill="none"/>
<path d="M1062,826 Q1062,786 1076,778 L1118,776 Q1124,800 1120,826 Z" fill="#9fa3a3"/>
<path d="M1072,822 Q1074,792 1084,784 L1110,782 Q1114,802 1112,822 Z" fill="#cacbcb"/>
<path d="M745,1072 L779,983 M776,993 L786,982 M770,1010 L792,1004" stroke="#4f5455" stroke-width="5.5" stroke-linecap="round" fill="none"/>
<ellipse cx="795" cy="993" rx="7" ry="3" transform="rotate(50 795 993)" fill="#78c9b3"/>
<ellipse cx="788" cy="1016" rx="10" ry="3.5" transform="rotate(35 788 1016)" fill="#78c9b3"/>
<ellipse cx="724" cy="1028" rx="14" ry="22" transform="rotate(-25 724 1028)" fill="#f08b86"/>
<circle cx="716" cy="1020" r="9" fill="#f08b86"/>
<ellipse cx="752" cy="1034" rx="15" ry="25" transform="rotate(-18 752 1034)" fill="#a7aaab"/>
<ellipse cx="742" cy="998" rx="25" ry="21" transform="rotate(-25 742 998)" fill="#a7aaab"/>
<circle cx="756" cy="972.5" r="10.5" fill="#a7aaab"/><ellipse cx="755.5" cy="976" rx="5.5" ry="4" transform="rotate(-40 755.5 976)" fill="#4f5455"/>
<circle cx="722" cy="991.6" r="9.5" fill="#a7aaab"/><ellipse cx="725" cy="995" rx="3.5" ry="6.5" transform="rotate(-10 725 995)" fill="#4f5455"/>
<ellipse cx="749" cy="1003" rx="4" ry="6.5" transform="rotate(-30 749 1003)" fill="#4f5455"/>
<circle cx="762.4" cy="1002" r="3.5" fill="#f08b86"/><circle cx="742.5" cy="1012.4" r="3.5" fill="#f08b86"/>
<path d="M724,980 l0,-9 l3,4 l3,-5 l2,8 Z" fill="#f08b86"/>
<path d="M745,1060 L748,1070" stroke="#4f5455" stroke-width="6" stroke-linecap="round"/>
<path d="M731,1001 q3,-3 6,0 M757,989 q3,-2 5,1" stroke="#4f5455" stroke-width="1.3" fill="none" stroke-linecap="round"/>
<path d="M752,1012 q3,2 6,-1" stroke="#4f5455" stroke-width="1.2" fill="none"/>
<path d="M951.5,1074 L993.5,993.9 M958,1035 L974,1024.7 M970,1068.5 Q972,1050 975,1034" stroke="#4f5455" stroke-width="3.2" stroke-linecap="round" fill="none"/>
<ellipse cx="958" cy="1024" rx="10" ry="3" transform="rotate(-5 958 1024)" fill="#78c9b3"/>
<ellipse cx="951" cy="1051" rx="9" ry="3" transform="rotate(40 951 1051)" fill="#78c9b3"/>
<ellipse cx="948" cy="1064" rx="10" ry="3" transform="rotate(-30 948 1064)" fill="#78c9b3"/>
<ellipse cx="1046" cy="979" rx="15" ry="10.5" transform="rotate(-30 1046 978)" fill="#f08b86"/>
<ellipse cx="1010" cy="992" rx="26" ry="12" transform="rotate(-25 1010 992)" fill="#a7aaab"/>
<ellipse cx="1013" cy="1013" rx="31" ry="26" transform="rotate(-35 1013 1013)" fill="#a7aaab"/>
<circle cx="996" cy="1048" r="11" fill="#a7aaab"/><ellipse cx="997" cy="1046" rx="7" ry="4.5" fill="#4f5455"/>
<circle cx="1045" cy="1002" r="11" fill="#a7aaab"/><ellipse cx="1041" cy="1003.6" rx="4.5" ry="6.5" fill="#4f5455"/>
<ellipse cx="1006" cy="1014" rx="7" ry="5" fill="#4f5455"/>
<circle cx="1014" cy="999" r="3.5" fill="#f08b86"/><circle cx="990" cy="1024" r="3.5" fill="#f08b86"/>
<path d="M1030,1030 l10,-8 M1032,1034 l10,-6" stroke="#f08b86" stroke-width="2.5" stroke-linecap="round"/>
<path d="M1016,1004 q3,3 6,0 M993,1030 q3,3 6,0" stroke="#4f5455" stroke-width="1.3" fill="none" stroke-linecap="round"/>
<path d="M1095,1018 l10,-34 M1101,1019 l10,-34 M1107,1019 l9,-32" stroke="#78c9b3" stroke-width="2" fill="none"/>
<path d="M848,1020 l10,-22 M854,1021 l10,-22 M860,1021 l9,-21" stroke="#78c9b3" stroke-width="2" fill="none"/>
<path d="M656,1076 l6,-10 l5,8 M676,1078 l4,-8 l6,8" fill="#a7aaab"/>
</g>
<path d="M796,855 C806.7,856.0 842.7,859.8 860.0,861.0 C877.3,862.2 885.8,862.5 900.0,862.0 C914.2,861.5 931.5,860.0 945.0,858.0 C958.5,856.0 970.2,852.5 981.0,850.0 C991.8,847.5 1000.2,845.7 1010.0,843.0 C1019.8,840.3 1030.7,837.2 1040.0,834.0 C1049.3,830.8 1056.0,828.0 1066.0,824.0 C1076.0,820.0 1089.3,814.5 1100.0,810.0 C1110.7,805.5 1118.3,803.2 1130.0,797.0 C1141.7,790.8 1158.8,780.5 1170.0,773.0 C1181.2,765.5 1192.5,755.5 1197.0,752.0 C1195.8,763.3 1193.5,798.7 1190.0,820.0 C1186.5,841.3 1180.0,866.3 1176.0,880.0 C1172.0,893.7 1167.7,898.3 1166.0,902.0 C1159.2,907.7 1140.0,922.5 1125.0,931.0 C1110.0,939.5 1091.8,948.0 1076.0,954.0 C1060.2,960.0 1046.0,963.0 1030.0,967.0 C1014.0,971.0 998.3,973.8 980.0,978.0 C961.7,982.2 940.0,989.7 920.0,992.0 C900.0,994.3 876.7,992.7 860.0,992.0 C843.3,991.3 834.7,990.0 820.0,988.0 C805.3,986.0 780.0,981.3 772.0,980.0 Z" fill="#fff"/>
<path d="M234.0,536.0 C245.0,536.0 271.7,537.7 300.0,536.0 C328.3,534.3 373.8,531.0 404.0,526.0 C434.2,521.0 453.7,513.3 481.0,506.0 C508.3,498.7 541.5,488.2 568.0,482.0 C594.5,475.8 614.0,473.2 640.0,469.0 C666.0,464.8 693.5,459.3 724.0,457.0 C754.5,454.7 795.8,456.3 823.0,455.0 C850.2,453.7 863.7,452.0 887.0,449.0 C910.3,446.0 950.3,439.0 963.0,437.0" fill="none" stroke="#0c2f87" stroke-width="5.0" stroke-linecap="round" stroke-linejoin="round"/>
<path d="M963.0,437.0 L973.0,470.0" fill="none" stroke="#0c2f87" stroke-width="5.0" stroke-linecap="round" stroke-linejoin="round"/>
<path d="M996.0,594.0 L997.0,652.0" fill="none" stroke="#0c2f87" stroke-width="5.0" stroke-linecap="round" stroke-linejoin="round"/>
<path d="M997.0,652.0 C990.2,652.8 967.7,655.0 956.0,657.0 C944.3,659.0 936.5,661.5 927.0,664.0 C917.5,666.5 903.7,670.7 899.0,672.0" fill="none" stroke="#0c2f87" stroke-width="5.0" stroke-linecap="round" stroke-linejoin="round"/>
<path d="M901.0,680.0 C904.2,685.5 913.5,702.8 920.0,713.0 C926.5,723.2 933.0,733.0 940.0,741.0 C947.0,749.0 954.2,754.8 962.0,761.0 C969.8,767.2 978.5,772.5 987.0,778.0 C995.5,783.5 1004.2,789.0 1013.0,794.0 C1021.8,799.0 1035.5,805.7 1040.0,808.0" fill="none" stroke="#0c2f87" stroke-width="5.0" stroke-linecap="round" stroke-linejoin="round"/>
<path d="M293.0,737.0 L351.0,816.0" fill="none" stroke="#0c2f87" stroke-width="5.0" stroke-linecap="round" stroke-linejoin="round"/>
<path d="M351.0,816.0 C353.2,814.8 354.8,811.7 364.0,809.0 C373.2,806.3 392.0,800.5 406.0,800.0 C420.0,799.5 434.0,801.3 448.0,806.0 C462.0,810.7 476.0,818.2 490.0,828.0 C504.0,837.8 518.0,850.0 532.0,865.0 C546.0,880.0 562.7,899.8 574.0,918.0 C585.3,936.2 594.7,955.3 600.0,974.0 C605.3,992.7 602.7,1015.7 606.0,1030.0 C609.3,1044.3 615.3,1052.8 620.0,1060.0 C624.7,1067.2 631.7,1070.8 634.0,1073.0" fill="none" stroke="#0c2f87" stroke-width="5.0" stroke-linecap="round" stroke-linejoin="round"/>
<path d="M634.0,1073.0 C641.7,1073.8 662.3,1075.5 680.0,1078.0 C697.7,1080.5 720.0,1084.7 740.0,1088.0 C760.0,1091.3 783.3,1095.5 800.0,1098.0 C816.7,1100.5 823.3,1103.0 840.0,1103.0 C856.7,1103.0 880.7,1100.8 900.0,1098.0 C919.3,1095.2 930.7,1094.0 956.0,1086.0 C981.3,1078.0 1024.0,1064.0 1052.0,1050.0 C1080.0,1036.0 1106.0,1020.3 1124.0,1002.0 C1142.0,983.7 1151.3,960.3 1160.0,940.0 C1168.7,919.7 1171.0,900.0 1176.0,880.0 C1181.0,860.0 1186.7,839.2 1190.0,820.0 C1193.3,800.8 1194.3,779.5 1196.0,765.0 C1197.7,750.5 1199.2,743.0 1200.0,733.0 C1200.8,723.0 1201.5,713.0 1201.0,705.0 C1200.5,697.0 1199.5,691.5 1197.0,685.0 C1194.5,678.5 1190.2,670.7 1186.0,666.0 C1181.8,661.3 1176.2,659.0 1172.0,657.0 C1167.8,655.0 1162.8,654.5 1161.0,654.0" fill="none" stroke="#0c2f87" stroke-width="5.0" stroke-linecap="round" stroke-linejoin="round"/>
<path d="M1161.0,654.0 C1160.3,656.3 1158.4,659.5 1157.0,668.0 C1155.6,676.5 1153.7,694.2 1152.5,705.0 C1151.3,715.8 1151.0,725.5 1149.6,733.0 C1148.2,740.5 1147.3,745.5 1144.0,750.0 C1140.7,754.5 1135.7,756.3 1130.0,760.0 C1124.3,763.7 1117.2,767.7 1110.0,772.0 C1102.8,776.3 1095.3,781.5 1087.0,786.0 C1078.7,790.5 1067.8,795.3 1060.0,799.0 C1052.2,802.7 1047.5,805.0 1040.0,808.0 C1032.5,811.0 1023.2,814.3 1015.0,817.0 C1006.8,819.7 1000.2,822.2 991.0,824.0 C981.8,825.8 971.8,827.3 960.0,828.0 C948.2,828.7 936.7,829.3 920.0,828.0 C903.3,826.7 883.3,823.7 860.0,820.0 C836.7,816.3 804.7,810.3 780.0,806.0 C755.3,801.7 723.3,796.0 712.0,794.0" fill="none" stroke="#0c2f87" stroke-width="5.0" stroke-linecap="round" stroke-linejoin="round"/>
<path d="M702.0,998.0 C700.7,1002.3 698.3,1015.0 694.0,1024.0 C689.7,1033.0 683.3,1044.7 676.0,1052.0 C668.7,1059.3 657.0,1064.5 650.0,1068.0 C643.0,1071.5 636.7,1072.2 634.0,1073.0" fill="none" stroke="#0c2f87" stroke-width="5.0" stroke-linecap="round" stroke-linejoin="round"/>
<path d="M796.0,855.0 C806.7,856.0 842.7,859.8 860.0,861.0 C877.3,862.2 885.8,862.5 900.0,862.0 C914.2,861.5 931.5,860.0 945.0,858.0 C958.5,856.0 970.2,852.5 981.0,850.0 C991.8,847.5 1000.2,845.7 1010.0,843.0 C1019.8,840.3 1030.7,837.2 1040.0,834.0 C1049.3,830.8 1056.0,828.0 1066.0,824.0 C1076.0,820.0 1089.3,814.5 1100.0,810.0 C1110.7,805.5 1118.3,803.2 1130.0,797.0 C1141.7,790.8 1158.8,780.5 1170.0,773.0 C1181.2,765.5 1192.5,755.5 1197.0,752.0" fill="none" stroke="#0c2f87" stroke-width="5.0" stroke-linecap="round" stroke-linejoin="round"/>
<path d="M772.0,980.0 C780.0,981.3 805.3,986.0 820.0,988.0 C834.7,990.0 843.3,991.3 860.0,992.0 C876.7,992.7 900.0,994.3 920.0,992.0 C940.0,989.7 961.7,982.2 980.0,978.0 C998.3,973.8 1014.0,971.0 1030.0,967.0 C1046.0,963.0 1060.2,960.0 1076.0,954.0 C1091.8,948.0 1110.0,939.5 1125.0,931.0 C1140.0,922.5 1159.2,907.7 1166.0,903.0" fill="none" stroke="#0c2f87" stroke-width="5.0" stroke-linecap="round" stroke-linejoin="round"/>
<path d="M482.0,505.0 C485.0,517.0 494.0,556.0 500.0,577.0 C506.0,598.0 511.3,613.8 518.0,631.0 C524.7,648.2 531.8,661.8 540.0,680.0 C548.2,698.2 558.3,723.3 567.0,740.0 C575.7,756.7 581.5,763.0 592.0,780.0 C602.5,797.0 616.5,825.5 630.0,842.0 C643.5,858.5 665.8,872.8 673.0,879.0" fill="none" stroke="#0c2f87" stroke-width="5.0" stroke-linecap="round" stroke-linejoin="round"/>
<path d="M516.0,619.0 C520.7,616.2 535.3,606.8 544.0,602.0 C552.7,597.2 558.0,594.0 568.0,590.0 C578.0,586.0 592.0,581.5 604.0,578.0 C616.0,574.5 628.0,571.5 640.0,569.0 C652.0,566.5 664.0,564.5 676.0,563.0 C688.0,561.5 697.7,560.0 712.0,560.0 C726.3,560.0 753.7,562.5 762.0,563.0" fill="none" stroke="#0c2f87" stroke-width="5.0" stroke-linecap="round" stroke-linejoin="round"/>
<path d="M723.0,459.0 C725.7,466.2 733.3,485.8 739.0,502.0 C744.7,518.2 749.8,539.7 757.0,556.0 C764.2,572.3 774.7,587.3 782.0,600.0 C789.3,612.7 793.3,619.5 801.0,632.0 C808.7,644.5 819.0,662.2 828.0,675.0 C837.0,687.8 847.0,699.3 855.0,709.0 C863.0,718.7 868.0,724.5 876.0,733.0 C884.0,741.5 893.5,752.0 903.0,760.0 C912.5,768.0 923.5,773.7 933.0,781.0 C942.5,788.3 951.0,797.3 960.0,804.0 C969.0,810.7 981.7,817.7 987.0,821.0 C992.3,824.3 991.2,823.5 992.0,824.0" fill="none" stroke="#0c2f87" stroke-width="5.0" stroke-linecap="round" stroke-linejoin="round"/>
<path d="M737.0,459.0 C739.5,466.2 746.7,485.8 752.0,502.0 C757.3,518.2 762.0,539.7 769.0,556.0 C776.0,572.3 785.0,585.5 794.0,600.0 C803.0,614.5 813.8,629.7 823.0,643.0 C832.2,656.3 840.7,668.7 849.0,680.0 C857.3,691.3 869.0,705.8 873.0,711.0" fill="none" stroke="#0c2f87" stroke-width="5.0" stroke-linecap="round" stroke-linejoin="round"/>
<path d="M234.0,536.0 L246.0,591.0" fill="none" stroke="#0c2f87" stroke-width="5.0" stroke-linecap="round" stroke-linejoin="round"/>
<path d="M1162.0,656.0 C1162.8,658.7 1166.1,666.2 1167.0,672.0 C1167.9,677.8 1168.2,684.0 1167.5,691.0 C1166.8,698.0 1164.9,707.8 1163.0,714.0 C1161.1,720.2 1158.3,724.3 1156.0,728.0 C1153.7,731.7 1150.2,734.7 1149.0,736.0" fill="none" stroke="#0c2f87" stroke-width="5.0" stroke-linecap="round" stroke-linejoin="round"/>
<path d="M712.0,794.0 L650.0,976.0 L702.0,998.0" fill="none" stroke="#0c2f87" stroke-width="5.0" stroke-linecap="round" stroke-linejoin="round"/>
<path d="M796.0,855.0 L772.0,980.0" fill="none" stroke="#0c2f87" stroke-width="5.0" stroke-linecap="round" stroke-linejoin="round"/>
<path d="M520.0,634.0 C524.0,631.2 536.0,621.8 544.0,617.0 C552.0,612.2 558.0,609.8 568.0,605.0 C578.0,600.2 592.0,592.5 604.0,588.0 C616.0,583.5 628.0,580.2 640.0,578.0 C652.0,575.8 664.0,575.8 676.0,575.0 C688.0,574.2 697.5,573.0 712.0,573.0 C726.5,573.0 754.5,574.7 763.0,575.0" fill="none" stroke="#0c2f87" stroke-width="4.2" stroke-linecap="round" stroke-dasharray="14 12"/>
<path d="M407.0,528.0 C409.2,534.2 415.8,553.0 420.0,565.0 C424.2,577.0 427.7,587.5 432.0,600.0 C436.3,612.5 441.3,626.7 446.0,640.0 C450.7,653.3 453.5,663.3 460.0,680.0 C466.5,696.7 477.5,723.0 485.0,740.0 C492.5,757.0 497.2,768.7 505.0,782.0 C512.8,795.3 520.3,805.3 532.0,820.0 C543.7,834.7 561.0,854.0 575.0,870.0 C589.0,886.0 602.7,903.0 616.0,916.0 C629.3,929.0 648.5,942.7 655.0,948.0" fill="none" stroke="#0c2f87" stroke-width="4.2" stroke-linecap="round" stroke-dasharray="14 12"/>
<path d="M823.0,457.0 C824.5,464.2 828.3,484.5 832.0,500.0 C835.7,515.5 840.0,534.2 845.0,550.0 C850.0,565.8 856.8,582.0 862.0,595.0 C867.2,608.0 870.8,616.0 876.0,628.0 C881.2,640.0 890.2,660.5 893.0,667.0" fill="none" stroke="#0c2f87" stroke-width="4.2" stroke-linecap="round" stroke-dasharray="14 12"/>
<path d="M165.0,605.0 C177.5,603.2 214.8,596.8 240.0,594.0 C265.2,591.2 303.3,589.0 316.0,588.0 C317.7,594.2 322.3,613.0 326.0,625.0 C329.7,637.0 333.7,648.3 338.0,660.0 C342.3,671.7 347.3,683.8 352.0,695.0 C356.7,706.2 363.7,721.7 366.0,727.0 C356.7,727.3 326.0,727.5 310.0,729.0 C294.0,730.5 287.0,732.7 270.0,736.0 C253.0,739.3 218.3,746.8 208.0,749.0 L165.0,605.0 Z" fill="#fff" stroke="#0c2f87" stroke-width="5.0" stroke-linecap="round" stroke-linejoin="round"/>
<path d="M266.0,593.0 C267.7,599.2 272.0,617.2 276.0,630.0 C280.0,642.8 284.0,653.8 290.0,670.0 C296.0,686.2 308.3,717.5 312.0,727.0" fill="none" stroke="#0c2f87" stroke-width="4.2" stroke-linecap="round" stroke-dasharray="14 12"/>
<path d="M908.0,485.0 C919.2,483.0 952.8,476.7 975.0,473.0 C997.2,469.3 1030.0,464.7 1041.0,463.0 C1042.8,470.3 1049.3,493.0 1052.0,507.0 C1054.7,521.0 1056.3,534.2 1057.0,547.0 C1057.7,559.8 1056.2,577.8 1056.0,584.0 C1046.0,585.8 1015.2,591.5 996.0,595.0 C976.8,598.5 950.2,603.3 941.0,605.0 C939.3,597.7 934.3,574.5 931.0,561.0 C927.7,547.5 924.8,536.7 921.0,524.0 C917.2,511.3 910.2,491.5 908.0,485.0 Z" fill="#fff" stroke="#0c2f87" stroke-width="5.0" stroke-linecap="round" stroke-linejoin="round"/>
<path d="M951.0,480.0 C952.5,486.7 956.8,506.7 960.0,520.0 C963.2,533.3 966.8,547.2 970.0,560.0 C973.2,572.8 977.5,590.8 979.0,597.0" fill="none" stroke="#0c2f87" stroke-width="4.2" stroke-linecap="round" stroke-dasharray="14 12"/>
<g fill="none" stroke="#113a97" stroke-width="9" stroke-linecap="round" stroke-linejoin="round">
<path transform="translate(893,944) rotate(-9) scale(1.06,1)" d="M24,-31 C20,-36.5 10,-36.5 6.5,-28 C3.5,-21 4.5,-12 8,-8 C12,-3 20,-3.5 24,-8.5"/>
<path transform="translate(926,940) rotate(-10) scale(1.03,1)" d="M4.5,-4.5 C5.5,-22 8.5,-35.5 14,-35.5 C19.5,-35.5 22.5,-22 23.5,-4.5 M6.5,-16 L21.5,-16"/>
<path transform="translate(958,936) rotate(-12) scale(1,1)" d="M5,-4.5 L5,-35.5 L13,-35.5 C23.5,-35.5 23.5,-19.5 13,-19.5 L5,-19.5 M13,-19.5 L22.5,-4.5"/>
<path transform="translate(989,931) rotate(-14) scale(1,1)" d="M5,-4.5 L5,-35.5 L13,-35.5 C23.5,-35.5 23.5,-19.5 13,-19.5 L5,-19.5 M13,-19.5 L22.5,-4.5"/>
<path transform="translate(1013,920) rotate(-15) scale(1.22,1)" d="M4.5,-35.5 C6,-26 10,-20 14,-19 C18,-20 22,-26 23.5,-35.5 M14,-19 L14,-5"/>
<path transform="translate(1058,910) rotate(-19) scale(1.08,0.94)" d="M5,-4.5 L5,-35.5 L12.5,-35.5 C21.5,-35.5 21.5,-21 12.5,-21 L5,-21 M12.5,-21 C24,-21 24,-4.5 12.5,-4.5 L5,-4.5"/>
<path d="M1007,916 C1014,932 1035,938 1048,914" stroke-width="8"/>
</g>
<g transform="translate(1092,898) rotate(-22) scale(1,0.95)"><ellipse cx="15" cy="-19" rx="15.5" ry="18" fill="#113a97"/><path transform="translate(15,-18.5) scale(1.3)" d="M0,3 C-2,1 -6,-1 -6,-4 C-6,-7 -2,-8 0,-5 C2,-8 6,-7 6,-4 C6,-1 2,1 0,3 Z" fill="#fff"/></g>
<g transform="translate(1126,882) rotate(-25) scale(1,1)"><ellipse cx="15" cy="-19" rx="15.5" ry="18" fill="#113a97"/><path transform="translate(15,-18.5) scale(1.3)" d="M0,3 C-2,1 -6,-1 -6,-4 C-6,-7 -2,-8 0,-5 C2,-8 6,-7 6,-4 C6,-1 2,1 0,3 Z" fill="#fff"/></g>
</g><g id="leaders">
<path d="M336.5,414.0 C342.4,423.3 360.6,451.3 372.0,470.0 C383.4,488.7 392.3,510.3 405.0,526.0 C417.7,541.7 432.8,551.3 448.0,564.0 C463.2,576.7 480.0,592.3 496.0,602.0 C512.0,611.7 528.0,616.7 544.0,622.0 C560.0,627.3 576.7,631.5 592.0,634.0 C607.3,636.5 628.7,636.5 636.0,637.0" fill="none" stroke="#081d66" stroke-width="5.3" stroke-linecap="round" stroke-dasharray="0 8.6"/>
<path d="M1004.0,307.0 C1000.8,312.5 990.2,330.0 985.0,340.0 C979.8,350.0 976.2,357.0 973.0,367.0 C969.8,377.0 967.7,389.0 966.0,400.0 C964.3,411.0 962.8,421.8 963.0,433.0 C963.2,444.2 964.7,455.7 967.0,467.0 C969.3,478.3 973.5,491.7 977.0,501.0 C980.5,510.3 986.2,519.3 988.0,523.0" fill="none" stroke="#081d66" stroke-width="5.3" stroke-linecap="round" stroke-dasharray="0 8.6"/>
<path d="M192.0,802.0 C200.0,797.0 223.0,780.2 240.0,772.0 C257.0,763.8 273.3,758.3 294.0,753.0 C314.7,747.7 333.7,743.0 364.0,740.0 C394.3,737.0 443.3,735.2 476.0,735.0 C508.7,734.8 531.5,736.7 560.0,739.0 C588.5,741.3 632.5,747.3 647.0,749.0" fill="none" stroke="#081d66" stroke-width="5.3" stroke-linecap="round" stroke-dasharray="0 8.6"/>
<path d="M948.0,775.0 C952.5,773.8 961.3,769.8 975.0,768.0 C988.7,766.2 1013.0,764.8 1030.0,764.0 C1047.0,763.2 1062.0,763.0 1077.0,763.0 C1092.0,763.0 1106.2,763.2 1120.0,764.0 C1133.8,764.8 1146.7,765.8 1160.0,768.0 C1173.3,770.2 1187.8,773.3 1200.0,777.0 C1212.2,780.7 1221.8,784.5 1233.0,790.0 C1244.2,795.5 1255.8,802.2 1267.0,810.0 C1278.2,817.8 1291.2,827.5 1300.0,837.0 C1308.8,846.5 1315.3,858.2 1320.0,867.0 C1324.7,875.8 1326.7,886.2 1328.0,890.0" fill="none" stroke="#081d66" stroke-width="5.3" stroke-linecap="round" stroke-dasharray="0 8.6"/>
<path d="M846.0,1078.0 C838.3,1078.3 814.3,1078.0 800.0,1080.0 C785.7,1082.0 771.2,1086.2 760.0,1090.0 C748.8,1093.8 743.0,1096.8 733.0,1103.0 C723.0,1109.2 708.3,1119.7 700.0,1127.0 C691.7,1134.3 687.5,1139.3 683.0,1147.0 C678.5,1154.7 675.2,1164.7 673.0,1173.0 C670.8,1181.3 670.5,1193.0 670.0,1197.0" fill="none" stroke="#081d66" stroke-width="5.3" stroke-linecap="round" stroke-dasharray="0 8.6"/>
<circle cx="636" cy="637" r="5.5" fill="#0d3596"/>
<circle cx="988" cy="523" r="5.5" fill="#0d3596"/>
<circle cx="647" cy="749" r="5.5" fill="#0d3596"/>
<circle cx="948" cy="775" r="6" fill="#0d3596"/>
<circle cx="846" cy="1078" r="6" fill="#0d3596"/>
</g></svg></body></html>
